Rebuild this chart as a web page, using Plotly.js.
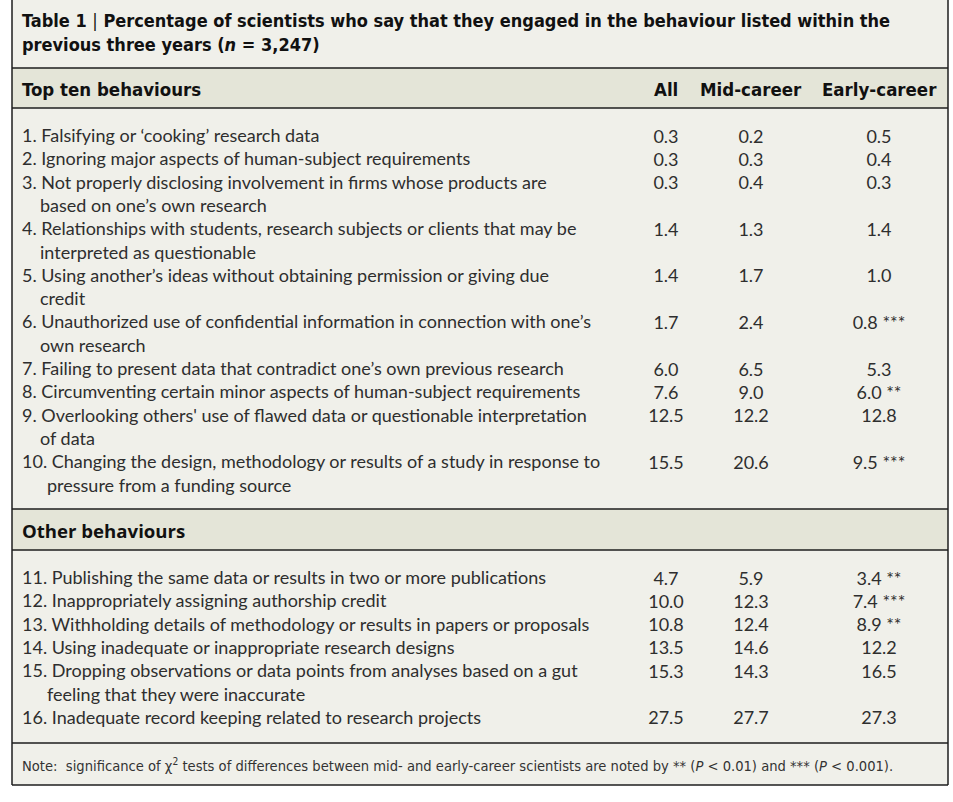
<!DOCTYPE html>
<html>
<head>
<meta charset="utf-8">
<script src="https://cdn.plot.ly/plotly-3.0.1.min.js"></script>
<style>html,body{margin:0;padding:0;background:#fff;}#chart{width:953px;height:802px;}</style>
</head>
<body>
<div id="chart"></div>
<script>
// ---------- DATA ----------
const titleLines = [
  'Table 1 <span style="font-weight:normal">|</span> Percentage of scientists who say that they engaged in the behaviour listed within the',
  'previous three years (<i>n</i> = 3,247)'
];
const columnHeaders = ['All', 'Mid-career', 'Early-career'];
const sectionTitles = ['Top ten behaviours', 'Other behaviours'];
const sectionSizes = [10, 6];
const behaviours = [
  '1. Falsifying or \u2018cooking\u2019 research data',
  '2. Ignoring major aspects of human-subject requirements',
  '3. Not properly disclosing involvement in firms whose products are<br>based on one\u2019s own research',
  '4. Relationships with students, research subjects or clients that may be<br>interpreted as questionable',
  '5. Using another\u2019s ideas without obtaining permission or giving due<br>credit',
  '6. Unauthorized use of confidential information in connection with one\u2019s<br>own research',
  '7. Failing to present data that contradict one\u2019s own previous research',
  '8. Circumventing certain minor aspects of human-subject requirements',
  '9. Overlooking others\' use of flawed data or questionable interpretation<br>of data',
  '10. Changing the design, methodology or results of a study in response to<br>pressure from a funding source',
  '11. Publishing the same data or results in two or more publications',
  '12. Inappropriately assigning authorship credit',
  '13. Withholding details of methodology or results in papers or proposals',
  '14. Using inadequate or inappropriate research designs',
  '15. Dropping observations or data points from analyses based on a gut<br>feeling that they were inaccurate',
  '16. Inadequate record keeping related to research projects'
];
const allPct   = [0.3, 0.3, 0.3, 1.4, 1.4, 1.7, 6.0, 7.6, 12.5, 15.5, 4.7, 10.0, 10.8, 13.5, 15.3, 27.5];
const midPct   = [0.2, 0.3, 0.4, 1.3, 1.7, 2.4, 6.5, 9.0, 12.2, 20.6, 5.9, 12.3, 12.4, 14.6, 14.3, 27.7];
const earlyPct = [0.5, 0.4, 0.3, 1.4, 1.0, 0.8, 5.3, 6.0, 12.8, 9.5, 3.4, 7.4, 8.9, 12.2, 16.5, 27.3];
const earlySig = ['', '', '', '', '', '***', '', '**', '', '***', '**', '***', '**', '', '', ''];
const noteText = 'Note:  significance of \u03c7<sup>2</sup> tests of differences between mid- and early-career scientists are noted by ** (<i>P</i> < 0.01) and *** (<i>P</i> < 0.001).';

// ---------- LAYOUT CONSTANTS ----------
const W = 953, H = 802;
const BOX = {x0: 12, x1: 948, y1: 785};
const LINE = 23.3;
const TEXT_X = 20;
const COL_X = [666, 751, 879];
const NUM_DY = 3;
const sectionLayout = [
  {bandTop: 68, bandBottom: 108, titleY: 89, firstLineY: 135},
  {bandTop: 509, bandBottom: 550, titleY: 530, firstLineY: 577}
];
const NOTE_TOP = 743, NOTE_Y = 765;
const BG = '#f0f0ea', BAND = '#e4e5d8', LINEC = '#1e1e1e', TXT = '#2e2e2e';
const condensed = 'DejaVu Sans Condensed, Liberation Sans Narrow, sans-serif';
const bodyFont = 'Lato, Open Sans, sans-serif';
const BODY_SIZE = 18;

// ---------- BUILD ----------
const annotations = [];
const shapes = [];
function ann(text, x, y, opts) {
  annotations.push(Object.assign({
    text: text, x: x, y: y, xref: 'x', yref: 'y', showarrow: false,
    xanchor: 'left', yanchor: 'middle', align: 'left',
    font: {family: bodyFont, size: BODY_SIZE, color: TXT}
  }, opts || {}));
}

// background & frame
shapes.push({type: 'rect', xref: 'x', yref: 'y', x0: BOX.x0, x1: BOX.x1, y0: 0, y1: BOX.y1, fillcolor: BG, line: {width: 0}, layer: 'below'});
sectionLayout.forEach(s => shapes.push({type: 'rect', xref: 'x', yref: 'y', x0: BOX.x0, x1: BOX.x1, y0: s.bandTop, y1: s.bandBottom, fillcolor: BAND, line: {width: 0}, layer: 'below'}));
const hLines = [sectionLayout[0].bandTop, sectionLayout[0].bandBottom, sectionLayout[1].bandTop, sectionLayout[1].bandBottom, NOTE_TOP, BOX.y1];
hLines.forEach(y => shapes.push({type: 'line', xref: 'x', yref: 'y', x0: BOX.x0, x1: BOX.x1, y0: y, y1: y, line: {color: LINEC, width: 1.5}}));
[BOX.x0, BOX.x1].forEach(x => shapes.push({type: 'line', xref: 'x', yref: 'y', x0: x, x1: x, y0: 0, y1: BOX.y1, line: {color: LINEC, width: 1.5}}));

// title
titleLines.forEach((t, i) => ann('<b>' + t + '</b>', TEXT_X, 20 + i * 24,
  {font: {family: condensed, size: 18, color: '#111'}}));

// column headers
columnHeaders.forEach((h, i) => ann('<b>' + h + '</b>', COL_X[i], sectionLayout[0].titleY,
  {xanchor: 'center', align: 'center', font: {family: condensed, size: 18.5, color: '#111'}}));

// sections
const rowY = [];
let rowIdx = 0;
sectionTitles.forEach((title, s) => {
  const L = sectionLayout[s];
  ann('<b>' + title + '</b>', TEXT_X, L.titleY,
    {font: {family: s === 0 ? condensed : 'Open Sans, sans-serif', size: s === 0 ? 18.5 : 18.6, color: '#111'}});
  let lineCount = 0;
  for (let k = 0; k < sectionSizes[s]; k++, rowIdx++) {
    const parts = behaviours[rowIdx].split('<br>');
    const y0 = L.firstLineY + lineCount * LINE;
    rowY.push(y0);
    parts.forEach((p, j) => {
      const indent = j === 0 ? 0 : (rowIdx < 9 ? 18 : 25);
      ann(p, TEXT_X + indent, y0 + j * LINE);
    });
    lineCount += parts.length;
  }
});

// note
ann(noteText, TEXT_X, NOTE_Y, {font: {family: condensed, size: 14.6, color: '#333'}});

// numeric columns as text traces
const fmt = v => v.toFixed(1);
const colData = [
  allPct.map(fmt),
  midPct.map(fmt),
  earlyPct.map((v, i) => fmt(v) + (earlySig[i] ? ' ' + earlySig[i] : ''))
];
const traces = colData.map((texts, c) => ({
  type: 'scatter', mode: 'text',
  x: texts.map(() => COL_X[c]), y: rowY.map(y => y + NUM_DY), text: texts,
  textposition: 'middle center',
  textfont: {family: bodyFont, size: BODY_SIZE, color: TXT},
  hoverinfo: 'skip', showlegend: false, cliponaxis: false
}));

const layout = {
  width: W, height: H,
  margin: {l: 0, r: 0, t: 0, b: 0, pad: 0},
  paper_bgcolor: '#ffffff', plot_bgcolor: '#ffffff',
  xaxis: {range: [0, W], visible: false, fixedrange: true},
  yaxis: {range: [H, 0], visible: false, fixedrange: true},
  shapes: shapes, annotations: annotations, showlegend: false
};
Plotly.newPlot('chart', traces, layout, {staticPlot: true, displayModeBar: false});
</script>
</body>
</html>
